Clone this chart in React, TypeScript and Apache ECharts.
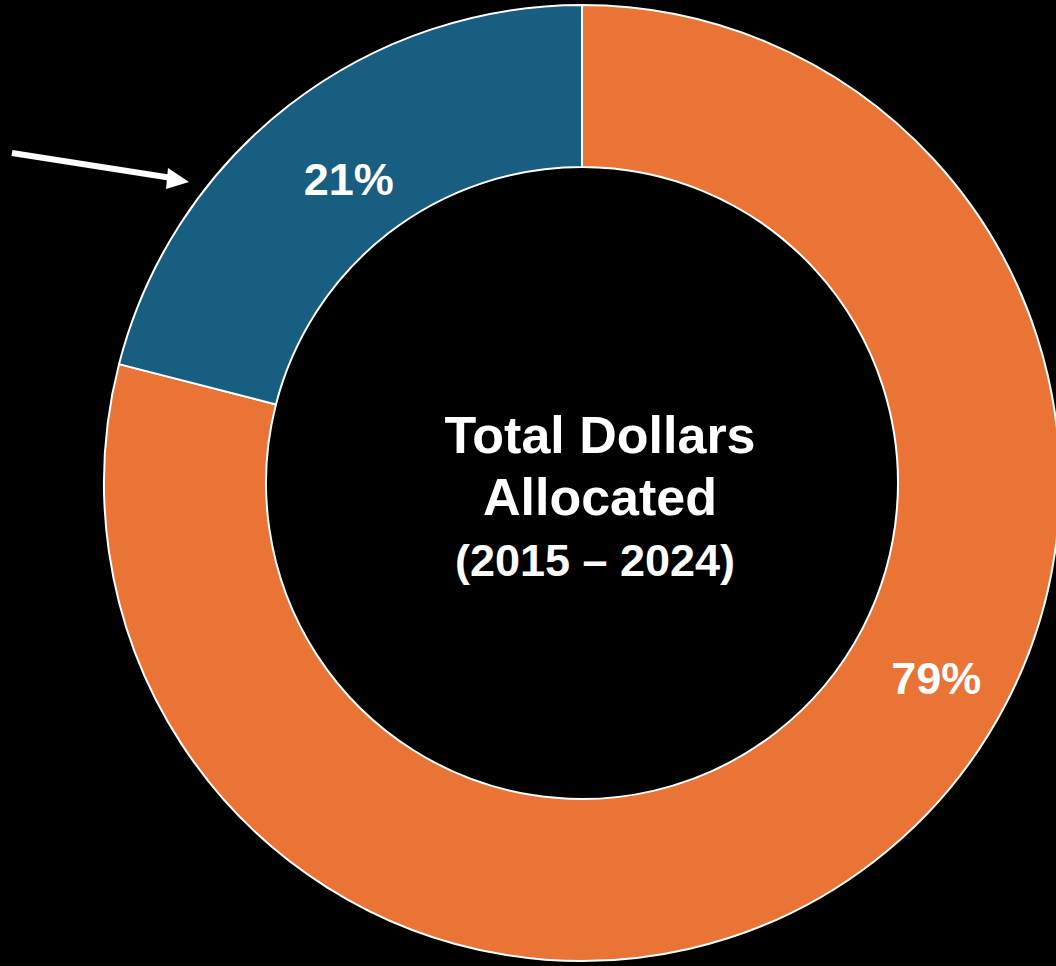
import React, { useEffect, useRef } from "react";
import * as echarts from "echarts";

const categories = ["Other", "Highlighted"];
const shares = [79, 21];
const sliceColors = ["#E97435", "#185E80"];
const centerLines = ["Total Dollars", "Allocated", "(2015 – 2024)"];

// label offsets (layout only)
const labelOffsets: [number, number][] = [
  [109, -121],
  [12, 13],
];

export default function App() {
  const ref = useRef<HTMLDivElement>(null);

  useEffect(() => {
    if (!ref.current) return;
    const chart = echarts.init(ref.current, undefined, { renderer: "svg" });
    const font = "'Liberation Sans', Arial, Helvetica, sans-serif";
    chart.setOption({
      animation: false,
      backgroundColor: "#000000",
      series: [
        {
          type: "pie",
          center: [582, 483],
          radius: [316, 478],
          startAngle: 90,
          clockwise: true,
          silent: true,
          avoidLabelOverlap: false,
          itemStyle: { borderColor: "#FFFFFF", borderWidth: 2 },
          label: {
            show: true,
            position: "inside",
            formatter: "{c}%",
            color: "#FFFFFF",
            fontFamily: font,
            fontWeight: "bold",
            fontSize: 45,
          },
          labelLine: { show: false },
          emphasis: { disabled: true },
          data: categories.map((name, i) => ({
            name,
            value: shares[i],
            itemStyle: { color: sliceColors[i] },
            label: { offset: labelOffsets[i] },
          })),
        },
      ],
      graphic: [
        {
          type: "text",
          x: 600,
          y: 435,
          style: {
            text: centerLines[0],
            fill: "#FFFFFF",
            font: `bold 52px ${font}`,
            align: "center",
            verticalAlign: "middle",
          },
        },
        {
          type: "text",
          x: 600,
          y: 497,
          style: {
            text: centerLines[1],
            fill: "#FFFFFF",
            font: `bold 52px ${font}`,
            align: "center",
            verticalAlign: "middle",
          },
        },
        {
          type: "text",
          x: 595,
          y: 560,
          style: {
            text: centerLines[2],
            fill: "#FFFFFF",
            font: `bold 45px ${font}`,
            align: "center",
            verticalAlign: "middle",
          },
        },
        {
          type: "line",
          shape: { x1: 12, y1: 153, x2: 172, y2: 178 },
          style: { stroke: "#FFFFFF", lineWidth: 6 },
        },
        {
          type: "polygon",
          shape: {
            points: [
              [168, 168],
              [189, 182],
              [166, 189],
            ],
          },
          style: { fill: "#FFFFFF" },
        },
      ],
    });
    return () => chart.dispose();
  }, []);

  return (
    <div
      ref={ref}
      style={{
        position: "fixed",
        left: 0,
        top: 0,
        width: 1056,
        height: 966,
        background: "#000",
      }}
    />
  );
}
